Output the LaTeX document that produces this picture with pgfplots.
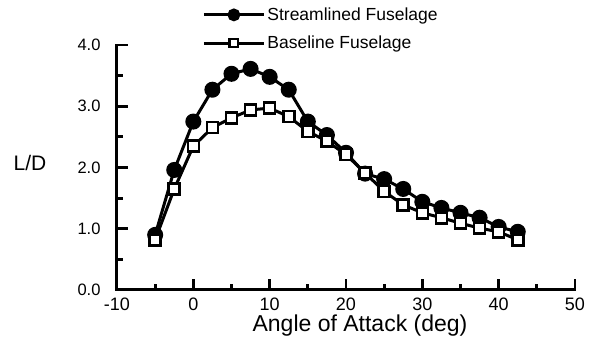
\documentclass[border=0pt]{standalone}
\usepackage{pgfplots}
\pgfplotsset{compat=1.18}
\usepackage{fontspec}
\setmainfont{Liberation Sans}
\begin{document}
\begin{tikzpicture}
\begin{axis}[
  scale only axis, width=458pt, height=245pt,
  xmin=-10, xmax=50, ymin=0, ymax=4,
  axis lines*=left,
  axis line style={line width=3pt, line cap=rect},
  tick align=inside,
  major tick length=11pt, minor tick length=6pt,
  tick style={line width=2.8pt, black},
  xtick={-10,0,...,50}, minor xtick={-5,5,...,45},
  ytick={0,1,2,3,4}, minor ytick={0.5,1.5,2.5,3.5},
  /pgf/number format/assume math mode=true,
  y tick label style={/pgf/number format/fixed, /pgf/number format/fixed zerofill, /pgf/number format/precision=1},
  xticklabel style={font=\fontsize{18}{18}\selectfont, yshift=-4pt},
  yticklabel style={font=\fontsize{16.5}{16.5}\selectfont, xshift=-13pt},
  xlabel={Angle of Attack (deg)},
  xlabel style={font=\fontsize{23}{23}\selectfont, yshift=2pt, xshift=14pt},
  ylabel={L/D},
  ylabel style={font=\fontsize{21}{21}\selectfont, rotate=-90, at={(rel axis cs:0,0.52)}, anchor=center, xshift=-87pt},
  legend style={draw=none, fill=none, at={(rel axis cs:0.186,0.97)}, anchor=south west,
    font=\fontsize{17.5}{17.5}\selectfont, row sep=10pt, inner sep=0pt, legend cell align=left},
  legend image code/.code={\draw[mark repeat=2,mark phase=2,#1, every mark/.append style={scale=0.75}] plot coordinates {(0pt,0pt) (30pt,0pt) (60pt,0pt)};},
  clip=false,
]
\addplot[black, line width=3pt, mark=*, mark size=6.5pt, mark options={fill=black}] coordinates {
(-5,0.90) (-2.5,1.96) (0,2.75) (2.5,3.27) (5,3.53) (7.5,3.61) (10,3.48) (12.5,3.27)
(15,2.75) (17.5,2.53) (20,2.24) (22.5,1.90) (25,1.81) (27.5,1.65) (30,1.44) (32.5,1.34)
(35,1.26) (37.5,1.18) (40,1.03) (42.5,0.95)};
\addlegendentry{Streamlined Fuselage}
\addplot[black, line width=3pt, mark=square*, mark size=5.5pt, mark options={fill=white, line width=2.6pt}] coordinates {
(-5,0.82) (-2.5,1.65) (0,2.35) (2.5,2.65) (5,2.81) (7.5,2.94) (10,2.97) (12.5,2.83)
(15,2.59) (17.5,2.43) (20,2.21) (22.5,1.91) (25,1.61) (27.5,1.39) (30,1.26) (32.5,1.18)
(35,1.09) (37.5,1.01) (40,0.95) (42.5,0.82)};
\addlegendentry{Baseline Fuselage}
\end{axis}
\pgfresetboundingbox
\useasboundingbox (current axis.south west) ++(-117pt,-55pt) rectangle ++(592pt,345pt);
\end{tikzpicture}
\end{document}
